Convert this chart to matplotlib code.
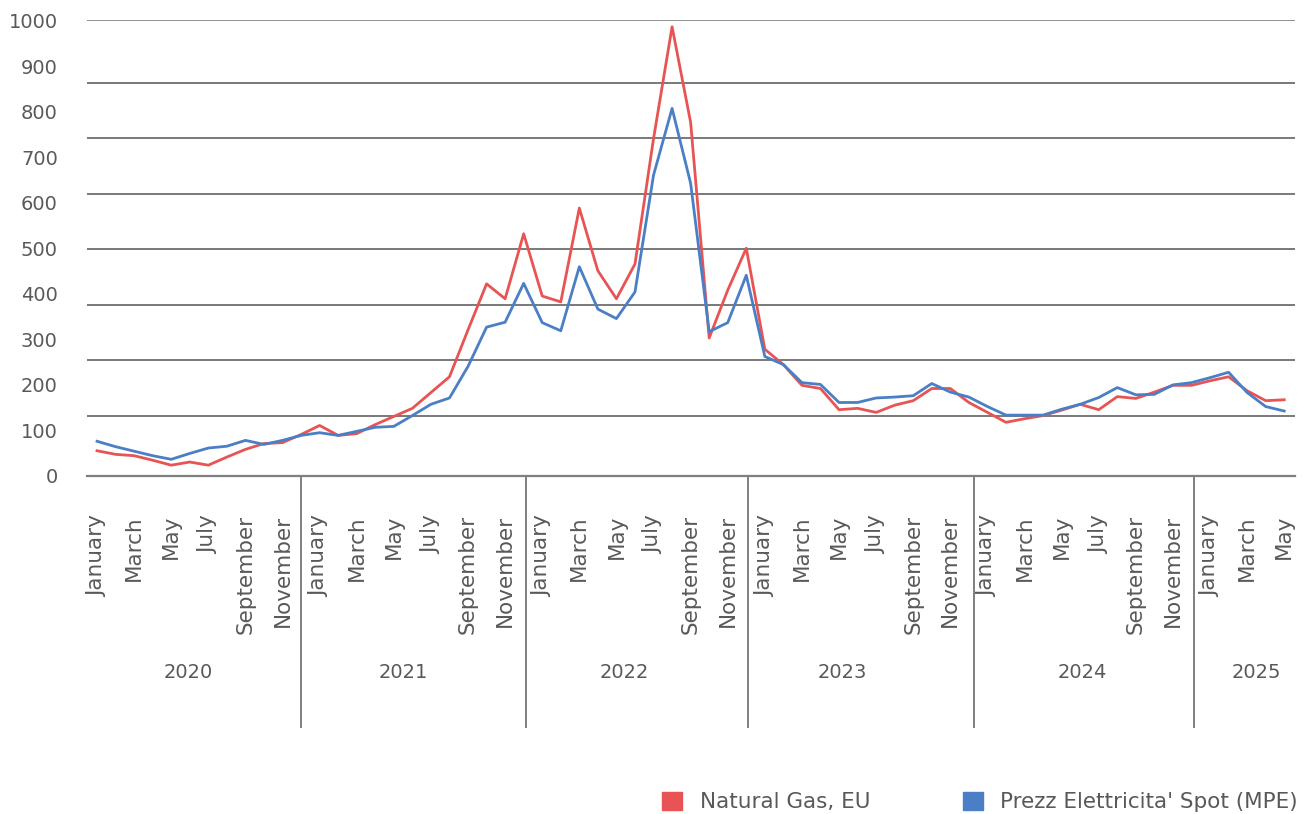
import numpy as np
import matplotlib
matplotlib.use('Agg')
import matplotlib.pyplot as plt
from matplotlib.patches import Patch

# Monthly values, January 2020 - May 2025
gas_eu = [45, 37, 34, 24, 13, 20, 13, 31, 48, 61, 63, 81,
          101, 79, 83, 103, 121, 139, 174, 209, 313, 415, 382, 526,
          388, 375, 583, 444, 382, 459, 737, 985, 773, 295, 401, 494,
          270, 236, 190, 183, 136, 139, 130, 146, 156, 183, 183, 152,
          130, 108, 116, 123, 135, 148, 136, 165, 161, 175, 190, 190,
          200, 209, 178, 156, 158]
pun_spot = [66, 54, 44, 34, 26, 39, 51, 55, 68, 59, 68, 79,
            85, 79, 88, 97, 99, 123, 148, 162, 232, 319, 330, 416,
            329, 311, 453, 359, 338, 397, 656, 804, 638, 309, 329, 434,
            254, 236, 196, 192, 152, 152, 162, 164, 167, 194, 175, 164,
            143, 124, 124, 124, 137, 148, 163, 185, 169, 170, 191, 196,
            207, 219, 174, 143, 133]

month_names = ['January', 'February', 'March', 'April', 'May', 'June', 'July',
               'August', 'September', 'October', 'November', 'December']
years = ['2020', '2021', '2022', '2023', '2024', '2025']
y_labels = ['0', '100', '200', '300', '400', '500', '600', '700', '800', '900', '1000']

series_names = ['Natural Gas, EU', "Prezz Elettricita' Spot (MPE)"]
red = '#E85454'
blue = '#4A7FC6'
txt = '#595959'

n = len(gas_eu)
x = np.arange(n)

fig = plt.figure(figsize=(13.16, 8.14), dpi=100)
ax = fig.add_axes([87 / 1316, 1 - 476 / 814, (1295 - 87) / 1316, 456 / 814])

ax.plot(x, gas_eu, color=red, lw=2.0, zorder=3)
ax.plot(x, pun_spot, color=blue, lw=2.0, zorder=3)

ax.set_xlim(-0.54, 64.58)
ax.set_ylim(0, 1000)

# horizontal gridlines (they don't line up with the labels in the original)
for g in [123, 246, 369, 492, 615, 738, 860]:
    ax.axhline(g, color='#555555', lw=1.1, zorder=1)
ax.axhline(1000, color='#888888', lw=1.3, zorder=1)

# y labels, spaced on their own
ax.set_yticks(np.linspace(-11, 998, len(y_labels)))
ax.set_yticklabels(y_labels)
ax.tick_params(axis='y', length=0, pad=21, labelsize=14, labelcolor=txt)

# month labels every second month
ticks = x[::2]
ax.set_xticks(ticks)
ax.set_xticklabels([month_names[i % 12] for i in ticks], rotation=90)
ax.tick_params(axis='x', length=0, pad=28, labelsize=15.5, labelcolor=txt)

for s in ['top', 'right', 'left']:
    ax.spines[s].set_visible(False)
ax.spines['bottom'].set_color('#7f7f7f')
ax.spines['bottom'].set_linewidth(1.6)

# year level of the category axis
trans = ax.get_xaxis_transform()
for sx in [11.0, 23.1, 35.1, 47.3, 59.15]:
    ax.plot([sx, sx], [0, -0.55], transform=trans, color='#7f7f7f', lw=1.4, clip_on=False)
for yx, yr in zip([4.9, 16.5, 28.4, 40.2, 53.1, 62.5], years):
    ax.text(yx, -0.43, yr, transform=trans, ha='center', va='center', fontsize=14, color=txt)

handles = [Patch(color=red), Patch(color=blue)]
fig.legend(handles, series_names, loc='center left', bbox_to_anchor=(662 / 1316, 1 - 802 / 814),
           ncol=2, frameon=False, fontsize=15.5, labelcolor=txt, handlelength=0.95, handleheight=0.95,
           handletextpad=0.8, columnspacing=4.3, borderpad=0, borderaxespad=0)

fig.savefig('out.png', dpi=100)
